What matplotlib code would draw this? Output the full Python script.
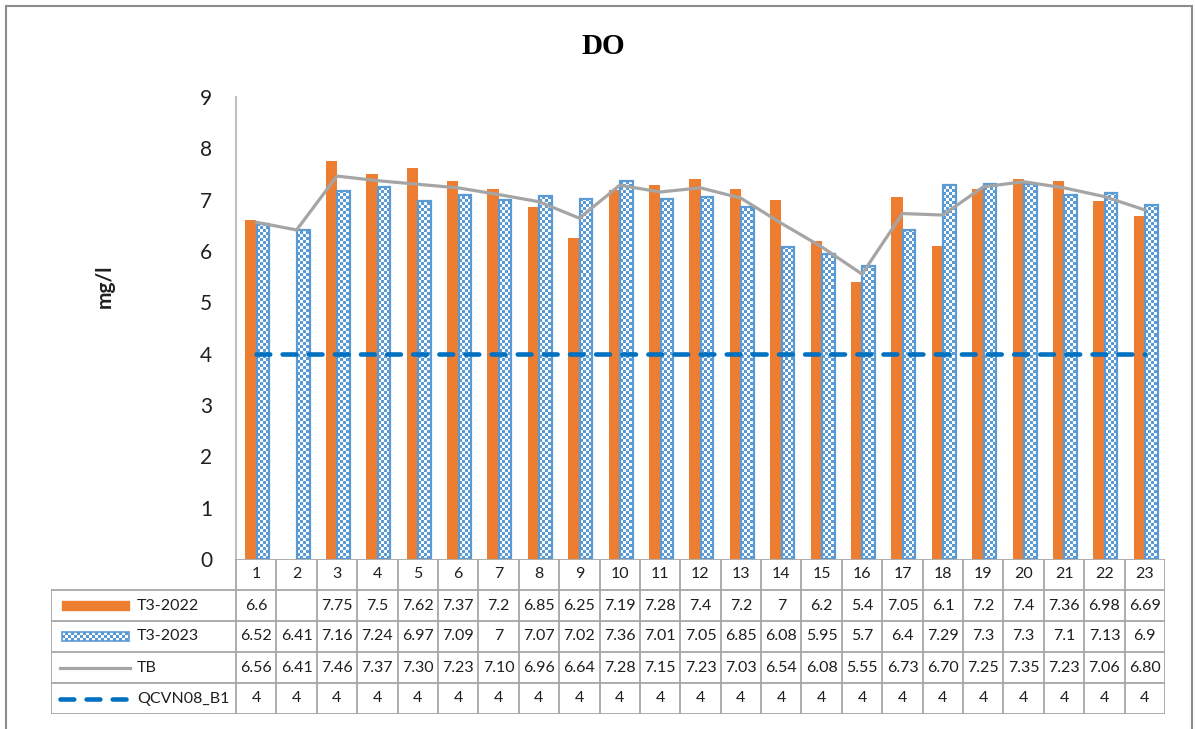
import numpy as np
import matplotlib
matplotlib.use("Agg")
import matplotlib.pyplot as plt
from matplotlib.patches import Rectangle

plt.rcParams['font.family'] = ['Lato', 'DejaVu Sans']

stations = [str(i) for i in range(1, 24)]
t3_2022 = [6.6, np.nan, 7.75, 7.5, 7.62, 7.37, 7.2, 6.85, 6.25, 7.19, 7.28, 7.4,
           7.2, 7, 6.2, 5.4, 7.05, 6.1, 7.2, 7.4, 7.36, 6.98, 6.69]
t3_2023 = [6.52, 6.41, 7.16, 7.24, 6.97, 7.09, 7, 7.07, 7.02, 7.36, 7.01, 7.05,
           6.85, 6.08, 5.95, 5.7, 6.4, 7.29, 7.3, 7.3, 7.1, 7.13, 6.9]
tb = [6.56, 6.41, 7.46, 7.37, 7.30, 7.23, 7.10, 6.96, 6.64, 7.28, 7.15, 7.23,
      7.03, 6.54, 6.08, 5.55, 6.73, 6.70, 7.25, 7.35, 7.23, 7.06, 6.80]
qcvn = [4] * 23

ORANGE = '#ED7D31'
BLUE = '#5B9BD5'
GRAY = '#A5A5A5'
DASH = '#0070C0'
TXT = '#1F1F1F'
GRID = '#A6A6A6'
TFS = 11.5

W, H = 1195, 729
fig = plt.figure(figsize=(W / 100, H / 100), dpi=100)

# outer chart border
fig.patches.append(Rectangle((6 / W, -0.01), 1186 / W, (H - 6) / H + 0.01,
                             transform=fig.transFigure, fill=False,
                             edgecolor='#8C8C8C', lw=1.5))

x0, x1 = 236, 1165
y_top, y_bot = 97, 559
ax = fig.add_axes([x0 / W, (H - y_bot) / H, (x1 - x0) / W, (y_bot - y_top) / H])
n = len(stations)
x = np.arange(1, n + 1)

bw = 0.28
# T3-2022 columns
for xi, v in zip(x, t3_2022):
    if not np.isnan(v):
        ax.bar(xi - 0.135, v, bw, color=ORANGE, zorder=3)

# T3-2023 columns: checkerboard fill clipped to each bar
cx, cy = 3 / 40.4, 3 * 9 / 462
cmap = matplotlib.colors.ListedColormap(['white', BLUE])
for xi, v in zip(x, t3_2023):
    bar = ax.bar(xi + 0.165, v, 0.31, facecolor='none', edgecolor=BLUE,
                 lw=1.6, zorder=3)[0]
    left = xi + 0.165 - 0.155
    nx = int(np.ceil(0.31 / cx)) + 1
    ny = int(np.ceil(v / cy)) + 1
    board = (np.add.outer(np.arange(ny), np.arange(nx)) % 2).astype(float)
    im = ax.imshow(board, extent=(left, left + nx * cx, 0, ny * cy),
                   origin='lower', cmap=cmap, interpolation='nearest',
                   aspect='auto', zorder=2.5)
    im.set_clip_path(bar)

ax.plot(x, tb, color=GRAY, lw=2.3, zorder=4)
ax.plot(x, qcvn, color=DASH, lw=3.3, dashes=(3.0, 2.7),
        dash_capstyle='round', zorder=4)

ax.set_xlim(0.5, n + 0.5)
ax.set_ylim(0, 9)
ax.set_yticks(range(10))
ax.set_xticks([])
ax.tick_params(axis='y', length=0, pad=17, labelsize=15, labelcolor=TXT)
for s in ['top', 'right', 'bottom']:
    ax.spines[s].set_visible(False)
ax.spines['left'].set_color('#BFBFBF')
ax.spines['left'].set_linewidth(1.5)

fig.text(603 / W, 1 - 47 / H, 'DO', ha='center', va='center',
         family='Liberation Serif', weight='bold', fontsize=21, color='black')
fig.text(105 / W, 1 - 286 / H, 'mg/l', ha='center', va='center', rotation=90,
         weight='bold', fontsize=15, color=TXT)

# data table under the plot
t_left, t_bot = 51, 714
tab = fig.add_axes([t_left / W, (H - t_bot) / H, (x1 - t_left) / W, (t_bot - y_bot) / H])
xl = 0.5 - (x0 - t_left) / ((x1 - x0) / n)
tab.set_xlim(xl, n + 0.5)
tab.set_ylim(0, 5)
tab.axis('off')

lk = dict(color=GRID, lw=1.3)
tab.plot([0.5, n + 0.5], [5, 5], **lk)
for r in range(5):
    tab.plot([xl, n + 0.5], [r, r], **lk)
tab.plot([xl, xl], [0, 4], **lk)
for k in range(n + 1):
    tab.plot([k + 0.5, k + 0.5], [0, 5], **lk)

def fmt(v):
    if np.isnan(v):
        return ''
    return ('%g' % v)

rows = [
    ('T3-2022', [fmt(v) for v in t3_2022]),
    ('T3-2023', [fmt(v) for v in t3_2023]),
    ('TB', ['%.2f' % v for v in tb]),
    ('QCVN08_B1', [fmt(v) for v in qcvn]),
]
for k, s in enumerate(stations):
    tab.text(k + 1, 4.5, s, ha='center', va='center', fontsize=TFS, color=TXT)
for r, (name, vals) in enumerate(rows):
    yc = 3.5 - r
    for k, s in enumerate(vals):
        tab.text(k + 1, yc, s, ha='center', va='center', fontsize=TFS, color=TXT)

# legend keys in the first column
px = (x1 - x0) / n
def kx(p):
    return xl + (p - t_left) / px

key_l, key_r = kx(62), kx(129)
kh = 0.32
tab.add_patch(Rectangle((key_l, 3.5 - kh / 2), key_r - key_l, kh, color=ORANGE))
kb = Rectangle((key_l, 2.5 - kh / 2), key_r - key_l, kh, facecolor='none',
               edgecolor=BLUE, lw=1.2, zorder=3)
tab.add_patch(kb)
kcx, kcy = 3 / px, 3 * 5 / (t_bot - y_bot)
knx = int(np.ceil((key_r - key_l) / kcx)) + 1
kny = int(np.ceil(kh / kcy)) + 1
kboard = (np.add.outer(np.arange(kny), np.arange(knx)) % 2).astype(float)
kim = tab.imshow(kboard, extent=(key_l, key_l + knx * kcx, 2.5 - kh / 2,
                                 2.5 - kh / 2 + kny * kcy),
                 origin='lower', cmap=cmap, interpolation='nearest',
                 aspect='auto', zorder=2)
kim.set_clip_path(kb)
tab.plot([kx(60), kx(130)], [1.5, 1.5], color=GRAY, lw=2.3)
tab.plot([kx(60), kx(130)], [0.5, 0.5], color=DASH, lw=3.3, dashes=(3.0, 2.7),
         dash_capstyle='round')
tab.set_xlim(xl, n + 0.5)
tab.set_ylim(0, 5)
for r, (name, _) in enumerate(rows):
    tab.text(kx(137), 3.5 - r, name, ha='left', va='center', fontsize=TFS,
             color=TXT)

fig.savefig('out.png', dpi=100)
